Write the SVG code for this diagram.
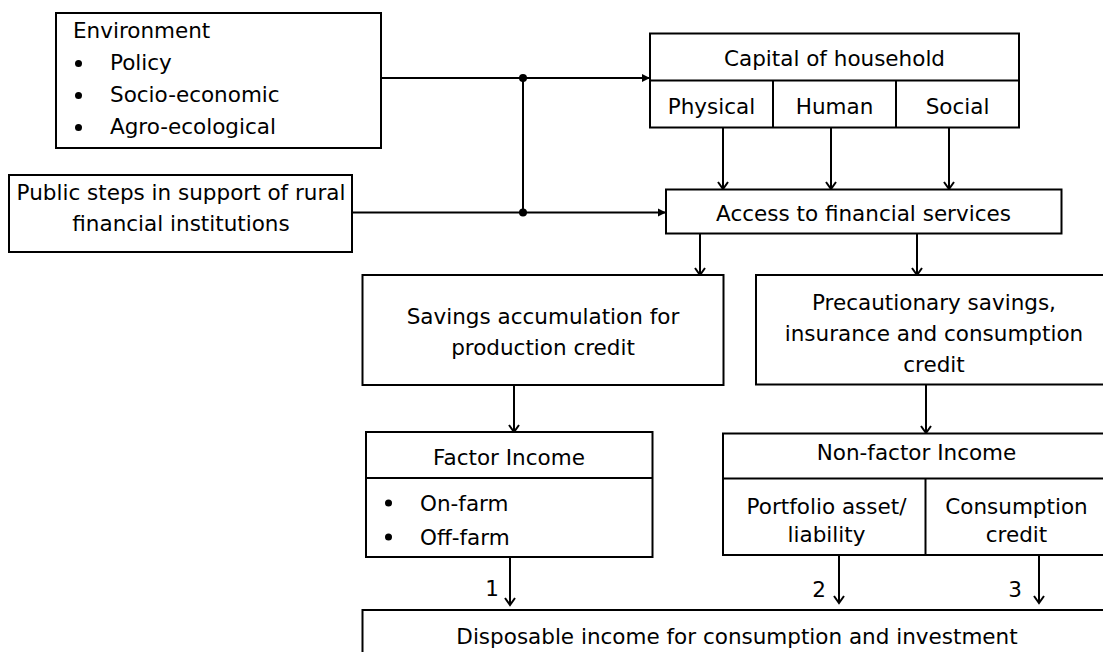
<svg xmlns="http://www.w3.org/2000/svg" width="1103" height="652" viewBox="0 0 1103 652">
<style>
  .box { fill: #fff; stroke: #000; stroke-width: 2; }
  .div { fill: none; stroke: #000; stroke-width: 2; }
  .t { font-family: "DejaVu Sans", "Liberation Sans", sans-serif; font-size: 21.5px; fill: #000; }
  .m { text-anchor: middle; }
  .conn { fill: none; stroke: #000; stroke-width: 2; }
  .v { marker-end: url(#vhead); }
  .h { marker-end: url(#thead); }
</style>
<defs>
  <marker id="vhead" markerUnits="userSpaceOnUse" orient="auto" refX="0" refY="0" markerWidth="12" markerHeight="12" overflow="visible">
    <path d="M-7,-5 L0,0 L-7,5" fill="none" stroke="#000" stroke-width="2"/>
  </marker>
  <marker id="thead" markerUnits="userSpaceOnUse" orient="auto" refX="0" refY="0" markerWidth="10" markerHeight="10" overflow="visible">
    <path d="M-8,-4 L0,0 L-8,4 Z" fill="#000"/>
  </marker>
</defs>

<g id="connectors">
  <path class="conn h" d="M381,78 H650"/>
  <path class="conn h" d="M352,212.5 H666"/>
  <path class="conn" d="M523,78 V212.5"/>
  <circle cx="523" cy="78" r="4" fill="#000"/>
  <circle cx="523" cy="212.5" r="4" fill="#000"/>
  <path class="conn v" d="M723,127 V189"/>
  <path class="conn v" d="M831,127 V189"/>
  <path class="conn v" d="M949,127 V189"/>
  <path class="conn v" d="M700,233 V275"/>
  <path class="conn v" d="M917,233 V275"/>
  <path class="conn v" d="M514,385 V432"/>
  <path class="conn v" d="M926,384 V433"/>
  <path class="conn v" d="M510,557 V605"/>
  <path class="conn v" d="M839,555 V603"/>
  <path class="conn v" d="M1039,555 V603"/>
  <text class="t m" x="492" y="596">1</text>
  <text class="t m" x="819" y="597">2</text>
  <text class="t m" x="1015" y="597">3</text>
</g>

<g id="environment">
  <rect class="box" x="56" y="13" width="325" height="135"/>
  <text class="t" x="73" y="38">Environment</text>
  <circle cx="78.5" cy="63.5" r="3.5" fill="#000"/>
  <text class="t" x="110" y="70">Policy</text>
  <circle cx="78.5" cy="95.5" r="3.5" fill="#000"/>
  <text class="t" x="110" y="102">Socio-economic</text>
  <circle cx="78.5" cy="127.5" r="3.5" fill="#000"/>
  <text class="t" x="110" y="134">Agro-ecological</text>
</g>

<g id="public-steps">
  <rect class="box" x="9" y="175" width="343" height="77"/>
  <text class="t m" x="181" y="200">Public steps in support of rural</text>
  <text class="t m" x="181" y="231">financial institutions</text>
</g>

<g id="capital">
  <rect class="box" x="650" y="33.5" width="369" height="94"/>
  <path class="div" d="M650,80.5 H1019 M773,80.5 V127.5 M896,80.5 V127.5"/>
  <text class="t m" x="834.5" y="66">Capital of household</text>
  <text class="t m" x="711.5" y="114">Physical</text>
  <text class="t m" x="834.5" y="114">Human</text>
  <text class="t m" x="957.5" y="114">Social</text>
</g>

<g id="access">
  <rect class="box" x="666" y="189.5" width="395.5" height="44"/>
  <text class="t m" x="863.5" y="221">Access to financial services</text>
</g>

<g id="savings">
  <rect class="box" x="362.5" y="275" width="361" height="110"/>
  <text class="t m" x="543" y="324">Savings accumulation for</text>
  <text class="t m" x="543" y="355">production credit</text>
</g>

<g id="precautionary">
  <rect class="box" x="756" y="275" width="356" height="109.5"/>
  <text class="t m" x="934" y="310">Precautionary savings,</text>
  <text class="t m" x="934" y="341">insurance and consumption</text>
  <text class="t m" x="934" y="372">credit</text>
</g>

<g id="factor-income">
  <rect class="box" x="366" y="432" width="286.5" height="125"/>
  <path class="div" d="M366,478 H652.5"/>
  <text class="t m" x="509" y="465">Factor Income</text>
  <circle cx="388.5" cy="503" r="3.5" fill="#000"/>
  <text class="t" x="420" y="511">On-farm</text>
  <circle cx="388.5" cy="537" r="3.5" fill="#000"/>
  <text class="t" x="420" y="545">Off-farm</text>
</g>

<g id="non-factor-income">
  <rect class="box" x="723" y="433.5" width="385" height="121.5"/>
  <path class="div" d="M723,478.5 H1108 M925.5,478.5 V555"/>
  <text class="t m" x="916.5" y="460">Non-factor Income</text>
  <text class="t m" x="826.5" y="514">Portfolio asset/</text>
  <text class="t m" x="826.5" y="542">liability</text>
  <text class="t m" x="1016.5" y="514">Consumption</text>
  <text class="t m" x="1016.5" y="542">credit</text>
</g>

<g id="disposable-income">
  <rect class="box" x="362.5" y="610" width="750" height="60"/>
  <text class="t m" x="737" y="644">Disposable income for consumption and investment</text>
</g>
</svg>
